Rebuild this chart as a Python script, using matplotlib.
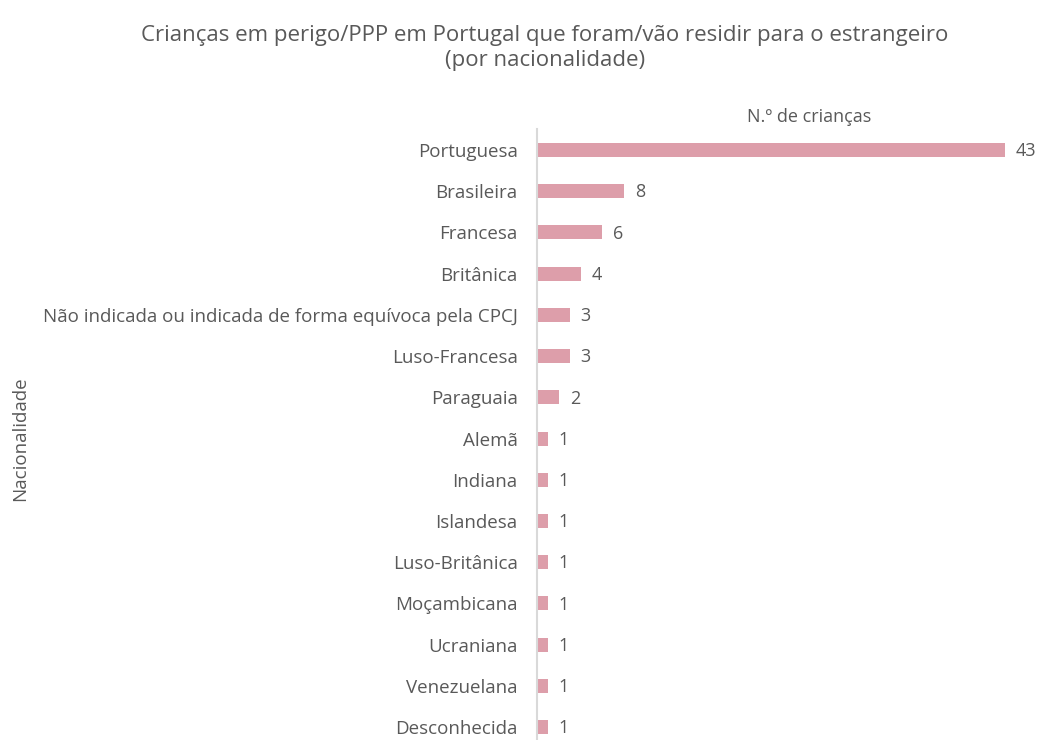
import matplotlib.pyplot as plt

plt.rcParams['font.family'] = ['Open Sans', 'DejaVu Sans']

nacionalidades = ['Portuguesa', 'Brasileira', 'Francesa', 'Britânica',
                  'Não indicada ou indicada de forma equívoca pela CPCJ',
                  'Luso-Francesa', 'Paraguaia', 'Alemã', 'Indiana', 'Islandesa',
                  'Luso-Britânica', 'Moçambicana', 'Ucraniana', 'Venezuelana',
                  'Desconhecida']
criancas = [43, 8, 6, 4, 3, 3, 2, 1, 1, 1, 1, 1, 1, 1, 1]

cor_barra = '#dd9eaa'
cor_texto = '#595959'

fig = plt.figure(figsize=(10.41, 7.40), dpi=100)
# eixo estende-se ligeiramente abaixo da figura
ax = fig.add_axes([0.5159, -0.0103, 0.5226, 0.8354])

pos = list(range(len(nacionalidades)))
ax.barh(pos, criancas, height=0.34, color=cor_barra)
for y, v in zip(pos, criancas):
    ax.text(v + 1.0, y + 0.03, str(v), va='center', ha='left', fontsize=13, color=cor_texto)

ax.set_ylim(len(nacionalidades) - 0.5, -0.5)
ax.set_xlim(0, 50)
ax.set_yticks(pos)
ax.set_yticklabels(nacionalidades, fontsize=13.5, color=cor_texto)
ax.tick_params(axis='y', length=0, pad=14)
ax.set_xticks([])
ax.xaxis.set_label_position('top')
ax.set_xlabel('N.º de crianças', fontsize=13, color=cor_texto, labelpad=5)

for s in ['top', 'right', 'bottom']:
    ax.spines[s].set_visible(False)
ax.spines['left'].set_color('#d9d9d9')
ax.spines['left'].set_linewidth(1.5)

fig.text(20 / 1041, 0.5 * (0.8251 - 0.0103), 'Nacionalidade', rotation=90,
         ha='center', va='center', fontsize=13.5, color=cor_texto)

fig.text(0.5235, 0.966, 'Crianças em perigo/PPP em Portugal que foram/vão residir para o estrangeiro\n(por nacionalidade)',
         ha='center', va='top', fontsize=16, color=cor_texto, linespacing=1.25)

fig.savefig('out.png', dpi=100)
